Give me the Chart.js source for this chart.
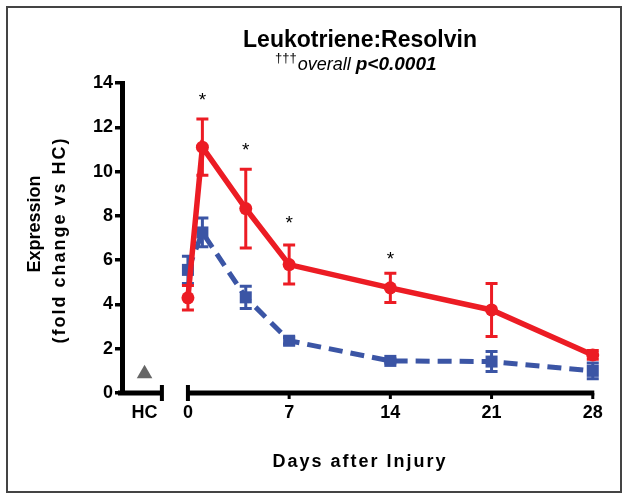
<!DOCTYPE html>
<html><head><meta charset="utf-8">
<script src="https://cdn.jsdelivr.net/npm/chart.js@4.4.0/dist/chart.umd.min.js"></script>
<style>html,body{margin:0;padding:0;background:#fff}#wrap{width:629px;height:500px}</style>
</head><body><div id="wrap"><canvas id="c" width="629" height="500"></canvas></div>
<script>
// ---- data ----
const days = [0, 1, 4, 7, 14, 21, 28];
const leukoMean = [4.3, 11.1, 8.33, 5.8, 4.75, 3.75, 1.72];
const leukoErr  = [0.55, 1.27, 1.78, 0.88, 0.66, 1.2, 0.2];
const resolMean = [5.56, 7.25, 4.32, 2.36, 1.45, 1.42, 1.0];
const resolErr  = [0.62, 0.65, 0.5, 0.15, 0.1, 0.45, 0.36];
const hcLabel = 'HC';
const hcPos = -3;
const hcValue = 0.87;
const hcAxisEnd = -1.8;
const xTickValues = [-3, 0, 7, 14, 21, 28];
const xMinorTicks = [7, 14, 21, 28];
const yTickValues = [0, 2, 4, 6, 8, 10, 12, 14];
const sigDays = [1, 4, 7, 14];
const sigY = [13.45, 11.2, 7.9, 6.3];
const titleText = 'Leukotriene:Resolvin';
const subDagger = '\u2020\u2020\u2020';
const subWord = 'overall';
const subP = 'p<0.0001';
const yTitle1 = 'Expression';
const yTitle2 = '(fold change vs HC)';
const xTitle = 'Days after Injury';

const RED = '#EC1C24', BLUE = '#3B55A5', GRAY = '#666666';
const FONT = "'Liberation Sans', Arial, sans-serif";

function setLS(ctx, v){ if ('letterSpacing' in ctx) ctx.letterSpacing = v; }

const overlay = {
  id: 'overlay',
  beforeDatasetDraw(chart, args) {
    const sets = [[leukoMean, leukoErr, RED], [resolMean, resolErr, BLUE]];
    if (args.index > 1) return;
    const [m, e, col] = sets[args.index];
    const {ctx, scales: {x, y}} = chart;
    ctx.save();
    ctx.strokeStyle = col; ctx.lineWidth = 3; ctx.lineCap = 'butt';
    days.forEach((d, i) => {
      const px = x.getPixelForValue(d);
      const t = y.getPixelForValue(m[i] + e[i]);
      const b = y.getPixelForValue(m[i] - e[i]);
      ctx.beginPath();
      ctx.moveTo(px, t); ctx.lineTo(px, b);
      ctx.moveTo(px - 6, t); ctx.lineTo(px + 6, t);
      ctx.moveTo(px - 6, b); ctx.lineTo(px + 6, b);
      ctx.stroke();
    });
    ctx.restore();
  },
  afterDraw(chart) {
    const {ctx, chartArea, scales: {x, y}} = chart;
    ctx.save();
    // x axis (broken)
    const yb = y.getPixelForValue(0);
    ctx.strokeStyle = '#000'; ctx.lineCap = 'butt';
    ctx.lineWidth = 5;
    ctx.beginPath();
    ctx.moveTo(chartArea.left - 4, yb); ctx.lineTo(x.getPixelForValue(hcAxisEnd), yb);
    ctx.moveTo(x.getPixelForValue(0), yb); ctx.lineTo(x.getPixelForValue(28) + 1.5, yb);
    ctx.stroke();
    ctx.lineWidth = 4;
    ctx.beginPath();
    [hcAxisEnd, 0].forEach(v => {
      const p = x.getPixelForValue(v);
      ctx.moveTo(p, yb - 8); ctx.lineTo(p, yb + 8);
    });
    ctx.stroke();
    ctx.lineWidth = 3;
    ctx.beginPath();
    xMinorTicks.forEach(v => {
      const p = x.getPixelForValue(v);
      ctx.moveTo(p, yb); ctx.lineTo(p, yb + 6);
    });
    ctx.stroke();

    // significance asterisks
    ctx.fillStyle = '#000';
    ctx.font = '19px ' + FONT;
    ctx.textAlign = 'center'; ctx.textBaseline = 'alphabetic';
    sigDays.forEach((d, i) => {
      ctx.fillText('*', x.getPixelForValue(d), y.getPixelForValue(sigY[i]) + 0.58 * 19);
    });

    // title
    ctx.font = 'bold 23px ' + FONT;
    ctx.textAlign = 'center';
    ctx.fillText(titleText, 360, 47);

    // subtitle
    ctx.textAlign = 'left';
    let cx = 275;
    ctx.font = '13px ' + FONT;
    ctx.fillText(subDagger, cx, 62);
    cx += ctx.measureText(subDagger).width + 1;
    ctx.font = 'italic 18px ' + FONT;
    ctx.fillText(subWord, cx, 70);
    cx += ctx.measureText(subWord + ' ').width;
    ctx.font = 'italic bold 19px ' + FONT;
    ctx.fillText(subP, cx, 70);

    // y title
    ctx.textAlign = 'center'; ctx.textBaseline = 'middle';
    ctx.save();
    ctx.translate(35, 224); ctx.rotate(-Math.PI / 2);
    ctx.font = 'bold 18px ' + FONT;
    ctx.fillText(yTitle1, 0, 0);
    ctx.restore();
    ctx.save();
    ctx.translate(60, 240); ctx.rotate(-Math.PI / 2);
    ctx.font = 'bold 18px ' + FONT;
    setLS(ctx, '2px');
    ctx.fillText(yTitle2, 0, 0);
    ctx.restore();

    // x title
    ctx.save();
    ctx.font = 'bold 18px ' + FONT;
    setLS(ctx, '2px');
    ctx.textBaseline = 'alphabetic';
    ctx.fillText(xTitle, 360, 467);
    ctx.restore();

    // frame
    ctx.strokeStyle = '#444'; ctx.lineWidth = 2;
    ctx.strokeRect(7, 7, 614, 485);
    ctx.restore();
  }
};

new Chart(document.getElementById('c'), {
  type: 'line',
  data: {
    datasets: [
      {
        label: 'Leukotriene', data: days.map((d, i) => ({x: d, y: leukoMean[i]})),
        borderColor: RED, backgroundColor: RED, borderWidth: 5.5, tension: 0,
        pointStyle: 'circle', pointRadius: 6.5, pointBorderWidth: 0, pointBackgroundColor: RED, fill: false, clip: false
      },
      {
        label: 'Resolvin', data: days.map((d, i) => ({x: d, y: resolMean[i]})),
        borderColor: BLUE, backgroundColor: BLUE, borderWidth: 5, borderDash: [14, 8], tension: 0,
        pointStyle: 'rect', pointRadius: 8.5, pointBorderWidth: 0, pointBackgroundColor: BLUE, fill: false, clip: false
      },
      {
        label: 'HC', data: [{x: hcPos, y: hcValue}], showLine: false,
        pointStyle: 'triangle', pointRadius: 9, pointBorderWidth: 0, pointBackgroundColor: GRAY, backgroundColor: GRAY, borderColor: GRAY, clip: false
      }
    ]
  },
  options: {
    responsive: false, animation: false, devicePixelRatio: 1,
    layout: {padding: {left: 0, right: 29, top: 83, bottom: 0}},
    plugins: {legend: {display: false}, tooltip: {enabled: false}, title: {display: false}},
    scales: {
      x: {
        type: 'linear', min: -4.56, max: 28.5, bounds: 'data',
        afterFit: s => { s.height = 107; },
        afterBuildTicks: s => { s.ticks = xTickValues.map(v => ({value: v})); },
        grid: {display: false, drawTicks: false},
        border: {display: false},
        ticks: {
          autoSkip: false, maxRotation: 0, padding: 9, color: '#000',
          font: {family: FONT, size: 18, weight: 'bold'},
          callback: v => v === hcPos ? hcLabel : String(v)
        }
      },
      y: {
        type: 'linear', min: 0, max: 14,
        afterFit: s => { s.width = 122; },
        afterBuildTicks: s => { s.ticks = yTickValues.map(v => ({value: v})); },
        grid: {display: true, drawOnChartArea: false, drawTicks: true, tickLength: 7, lineWidth: 3.5, color: '#000'},
        border: {display: true, width: 5, color: '#000'},
        ticks: {padding: 2, color: '#000', font: {family: FONT, size: 18, weight: 'bold'}}
      }
    }
  },
  plugins: [overlay]
});
</script>
</body></html>
